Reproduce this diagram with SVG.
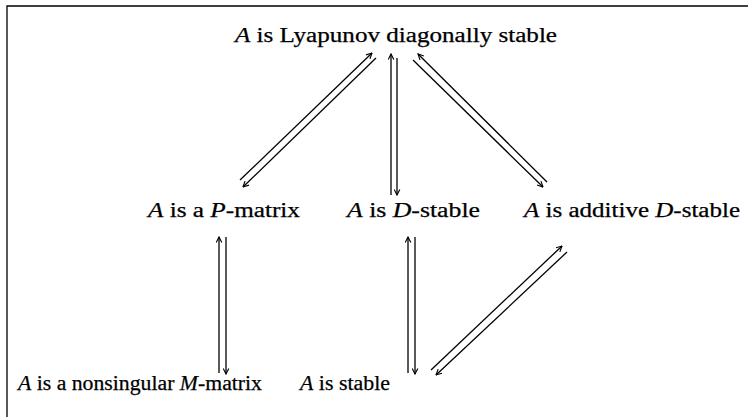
<svg xmlns="http://www.w3.org/2000/svg" width="748" height="417" viewBox="0 0 748 417">
<style>
text{font-family:"Liberation Serif","Times New Roman",serif;font-size:20px;fill:#000;stroke:#000;stroke-width:0.25}
.i{font-style:italic}
.c{stroke:#000;stroke-width:1.3;fill:none}
</style>
<defs>
<marker id="ah" viewBox="0 0 10 10" refX="9" refY="5" markerWidth="7" markerHeight="7" orient="auto" markerUnits="userSpaceOnUse">
<path d="M1,1 L9,5 L1,9" fill="none" stroke="#000" stroke-width="1.6"/>
</marker>
</defs>
<rect width="748" height="417" fill="#fff"/>
<path d="M7,417 V6 H748" fill="none" stroke="#000" stroke-width="1.3"/>
<g id="n_lyap"><text x="235" y="42" textLength="322" lengthAdjust="spacingAndGlyphs"><tspan class="i">A</tspan> is Lyapunov diagonally stable</text></g>
<g id="n_p"><text x="148" y="217" textLength="152" lengthAdjust="spacingAndGlyphs"><tspan class="i">A</tspan> is a <tspan class="i">P</tspan>-matrix</text></g>
<g id="n_d"><text x="347" y="217" textLength="133" lengthAdjust="spacingAndGlyphs"><tspan class="i">A</tspan> is <tspan class="i">D</tspan>-stable</text></g>
<g id="n_add"><text x="524" y="217" textLength="216" lengthAdjust="spacingAndGlyphs"><tspan class="i">A</tspan> is additive <tspan class="i">D</tspan>-stable</text></g>
<g id="n_m"><text x="18" y="390" textLength="244" lengthAdjust="spacingAndGlyphs"><tspan class="i">A</tspan> is a nonsingular <tspan class="i">M</tspan>-matrix</text></g>
<g id="n_s"><text x="300" y="390" textLength="90" lengthAdjust="spacingAndGlyphs"><tspan class="i">A</tspan> is stable</text></g>
<g id="connectors" class="c">
<line class="c" x1="240" y1="180" x2="372" y2="53" marker-end="url(#ah)"/>
<line class="c" x1="376" y1="58" x2="243" y2="187" marker-end="url(#ah)"/>
<line class="c" x1="391" y1="195" x2="391" y2="54" marker-end="url(#ah)"/>
<line class="c" x1="397" y1="58" x2="397" y2="195" marker-end="url(#ah)"/>
<line class="c" x1="547" y1="182" x2="418" y2="54" marker-end="url(#ah)"/>
<line class="c" x1="413" y1="60" x2="543" y2="187" marker-end="url(#ah)"/>
<line class="c" x1="219" y1="373" x2="219" y2="237" marker-end="url(#ah)"/>
<line class="c" x1="226" y1="237" x2="226" y2="374" marker-end="url(#ah)"/>
<line class="c" x1="408" y1="373" x2="408" y2="237" marker-end="url(#ah)"/>
<line class="c" x1="415" y1="237" x2="415" y2="374" marker-end="url(#ah)"/>
<line class="c" x1="431" y1="370" x2="562" y2="246" marker-end="url(#ah)"/>
<line class="c" x1="567" y1="252" x2="436" y2="375" marker-end="url(#ah)"/>
</g>
</svg>
